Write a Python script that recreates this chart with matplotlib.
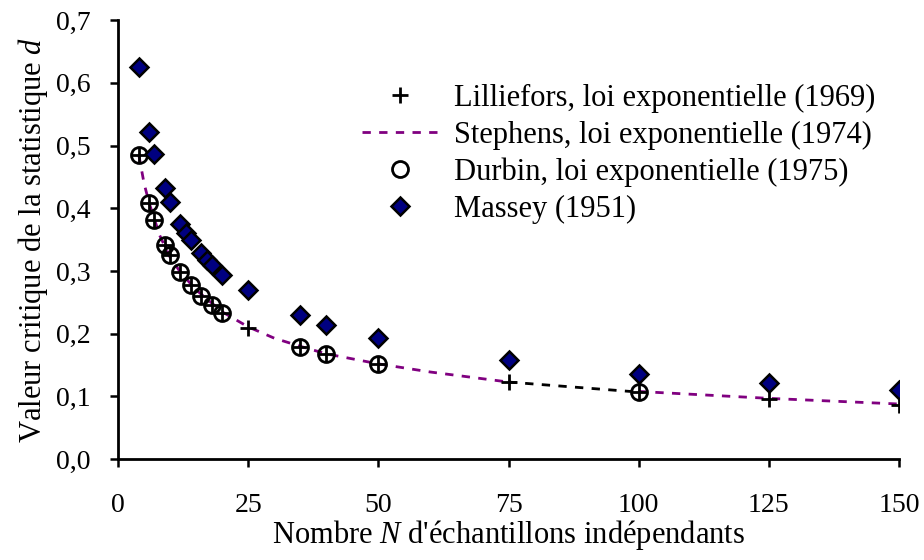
import numpy as np
import matplotlib.pyplot as plt
from matplotlib.ticker import FuncFormatter

# Valeurs
lill_n = [4, 6, 7, 9, 10, 12, 14, 16, 18, 20, 25, 35, 40, 50, 75, 100, 125, 150]
lill_d = [0.485, 0.408, 0.381, 0.341, 0.325, 0.298, 0.278, 0.260, 0.246, 0.233,
          0.209, 0.179, 0.168, 0.152, 0.123, 0.107, 0.096, 0.086]

steph_n = [4, 5, 6, 8, 10, 12, 15, 20, 25, 30, 35, 40, 50, 60, 75, np.nan,
           100, 125, 150]
steph_d = [0.485, 0.44, 0.408, 0.357, 0.322, 0.298, 0.270, 0.235, 0.211, 0.193,
           0.180, 0.168, 0.152, 0.139, 0.123, np.nan, 0.108, 0.097, 0.088]

durbin_n = [4, 6, 7, 9, 10, 12, 14, 16, 18, 20, 35, 40, 50, 100]
durbin_d = [0.485, 0.408, 0.381, 0.341, 0.325, 0.298, 0.278, 0.260, 0.246, 0.233,
            0.179, 0.168, 0.152, 0.107]

massey_n = [4, 6, 7, 9, 10, 12, 13, 14, 16, 17, 18, 20, 25, 35, 40, 50, 75,
            100, 125, 150]
massey_d = [0.625, 0.521, 0.486, 0.432, 0.410, 0.375, 0.361, 0.349, 0.328, 0.318,
            0.309, 0.294, 0.270, 0.230, 0.214, 0.193, 0.158, 0.136, 0.122, 0.111]

plt.rcParams['font.family'] = ['Liberation Serif', 'DejaVu Serif']
plt.rcParams['mathtext.fontset'] = 'custom'
plt.rcParams['mathtext.rm'] = 'Liberation Serif'
plt.rcParams['mathtext.it'] = 'Liberation Serif:italic'

fig = plt.figure(figsize=(9.24, 5.6), dpi=100)
ax = fig.add_axes([0.1277, 0.180, 0.8453, 0.784])

# segment noir entre 75 et 100 (Lilliefors)
i75, i100 = lill_n.index(75), lill_n.index(100)
ax.plot(lill_n[i75:i100 + 1], lill_d[i75:i100 + 1], color='black', lw=2,
        dashes=(3, 3), zorder=1)

ax.plot(steph_n, steph_d, color='#800080', lw=2, dashes=(3, 3), zorder=1,
        label="Stephens, loi exponentielle (1974)")
ax.plot(lill_n, lill_d, ls='none', marker='+', ms=11, mew=2, color='black',
        zorder=3, label="Lilliefors, loi exponentielle (1969)")
ax.plot(durbin_n, durbin_d, ls='none', marker='o', ms=11.5, mew=2,
        mfc='none', mec='black', zorder=3,
        label="Durbin, loi exponentielle (1975)")
ax.plot(massey_n, massey_d, ls='none', marker='D', ms=9, mew=1.8,
        mfc='#000080', mec='black', zorder=4, label="Massey (1951)")

ax.set_xlim(0, 150)
ax.set_ylim(0, 0.7)
ax.set_xticks(np.arange(0, 151, 25))
ax.set_yticks(np.arange(0, 0.71, 0.1))
ax.yaxis.set_major_formatter(FuncFormatter(lambda v, p: f"{v:.1f}".replace('.', ',')))
ax.tick_params(labelsize=20, width=1.8, length=6, direction='out')
ax.tick_params(axis='x', pad=18)
ax.tick_params(axis='y', pad=14)
for s in ['top', 'right']:
    ax.spines[s].set_visible(False)
for s in ['left', 'bottom']:
    ax.spines[s].set_linewidth(2)

ax.set_xlabel(r"Nombre $N$ d'échantillons indépendants", fontsize=22, labelpad=0)
ax.set_ylabel(r"Valeur critique de la statistique $d$", fontsize=22, labelpad=4)

h, l = ax.get_legend_handles_labels()
order = [1, 0, 2, 3]
ax.legend([h[i] for i in order], [l[i] for i in order], loc='upper left',
          bbox_to_anchor=(0.362, 0.90), bbox_transform=fig.transFigure,
          frameon=False, fontsize=22, handlelength=2.5, labelspacing=0.26,
          handletextpad=0.5)

fig.savefig('out.png', dpi=100)
